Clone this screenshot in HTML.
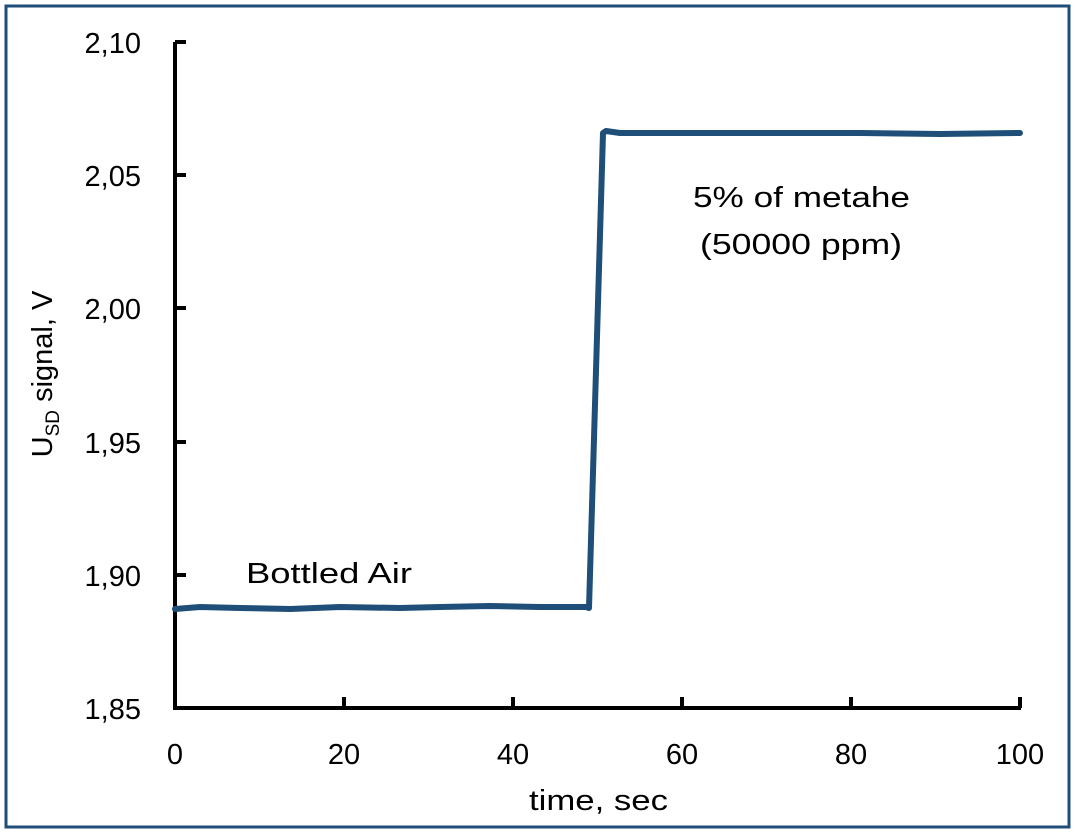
<!DOCTYPE html>
<html><head><style>
html,body{margin:0;padding:0;background:#fff;}
svg{display:block;font-family:"Liberation Sans",sans-serif;}
</style></head><body>
<svg width="1074" height="833" viewBox="0 0 1074 833">
<rect x="0" y="0" width="1074" height="833" fill="#fff"/>
<rect x="6" y="6" width="1063" height="821" fill="none" stroke="#1f4e79" stroke-width="3"/>
<g stroke="#000" stroke-width="4" fill="none">
<path d="M175 42 V708 H1021"/>
<path d="M175 42 h11 M175 175 h11 M175 308 h11 M175 442 h11 M175 575 h11"/>
<path d="M344 708 v-11 M513 708 v-11 M682 708 v-11 M851 708 v-11 M1020 708 v-11"/>
</g>
<g font-size="29" fill="#000" text-anchor="end">
<text x="141" y="53">2,10</text>
<text x="141" y="186">2,05</text>
<text x="141" y="319">2,00</text>
<text x="141" y="453">1,95</text>
<text x="141" y="586">1,90</text>
<text x="141" y="719">1,85</text>
</g>
<g font-size="29" fill="#000" text-anchor="middle">
<text x="175" y="764">0</text>
<text x="344" y="764">20</text>
<text x="513" y="764">40</text>
<text x="682" y="764">60</text>
<text x="851" y="764">80</text>
<text x="1020" y="764">100</text>
</g>
<g font-size="29" fill="#000">
<text x="529" y="810" textLength="139" lengthAdjust="spacingAndGlyphs">time, sec</text>
<text x="693" y="207" textLength="217" lengthAdjust="spacingAndGlyphs">5% of metahe</text>
<text x="700" y="254" textLength="202" lengthAdjust="spacingAndGlyphs">(50000 ppm)</text>
<text x="246" y="583" textLength="166" lengthAdjust="spacingAndGlyphs">Bottled Air</text>
</g>
<text transform="translate(52,374) rotate(-90)" font-size="29" text-anchor="middle">U<tspan font-size="19" dy="7">SD</tspan><tspan dy="-7"> signal, V</tspan></text>
<polyline fill="none" stroke="#1f4e79" stroke-width="6" stroke-linejoin="round" stroke-linecap="round"
points="175,609 200,607 240,608 290,609 340,607 400,608 440,607 490,606 540,607 586,607 589,608 603,133 606,131 620,133 700,133 790,133 860,133 940,134 1020,133"/>
</svg>
</body></html>
